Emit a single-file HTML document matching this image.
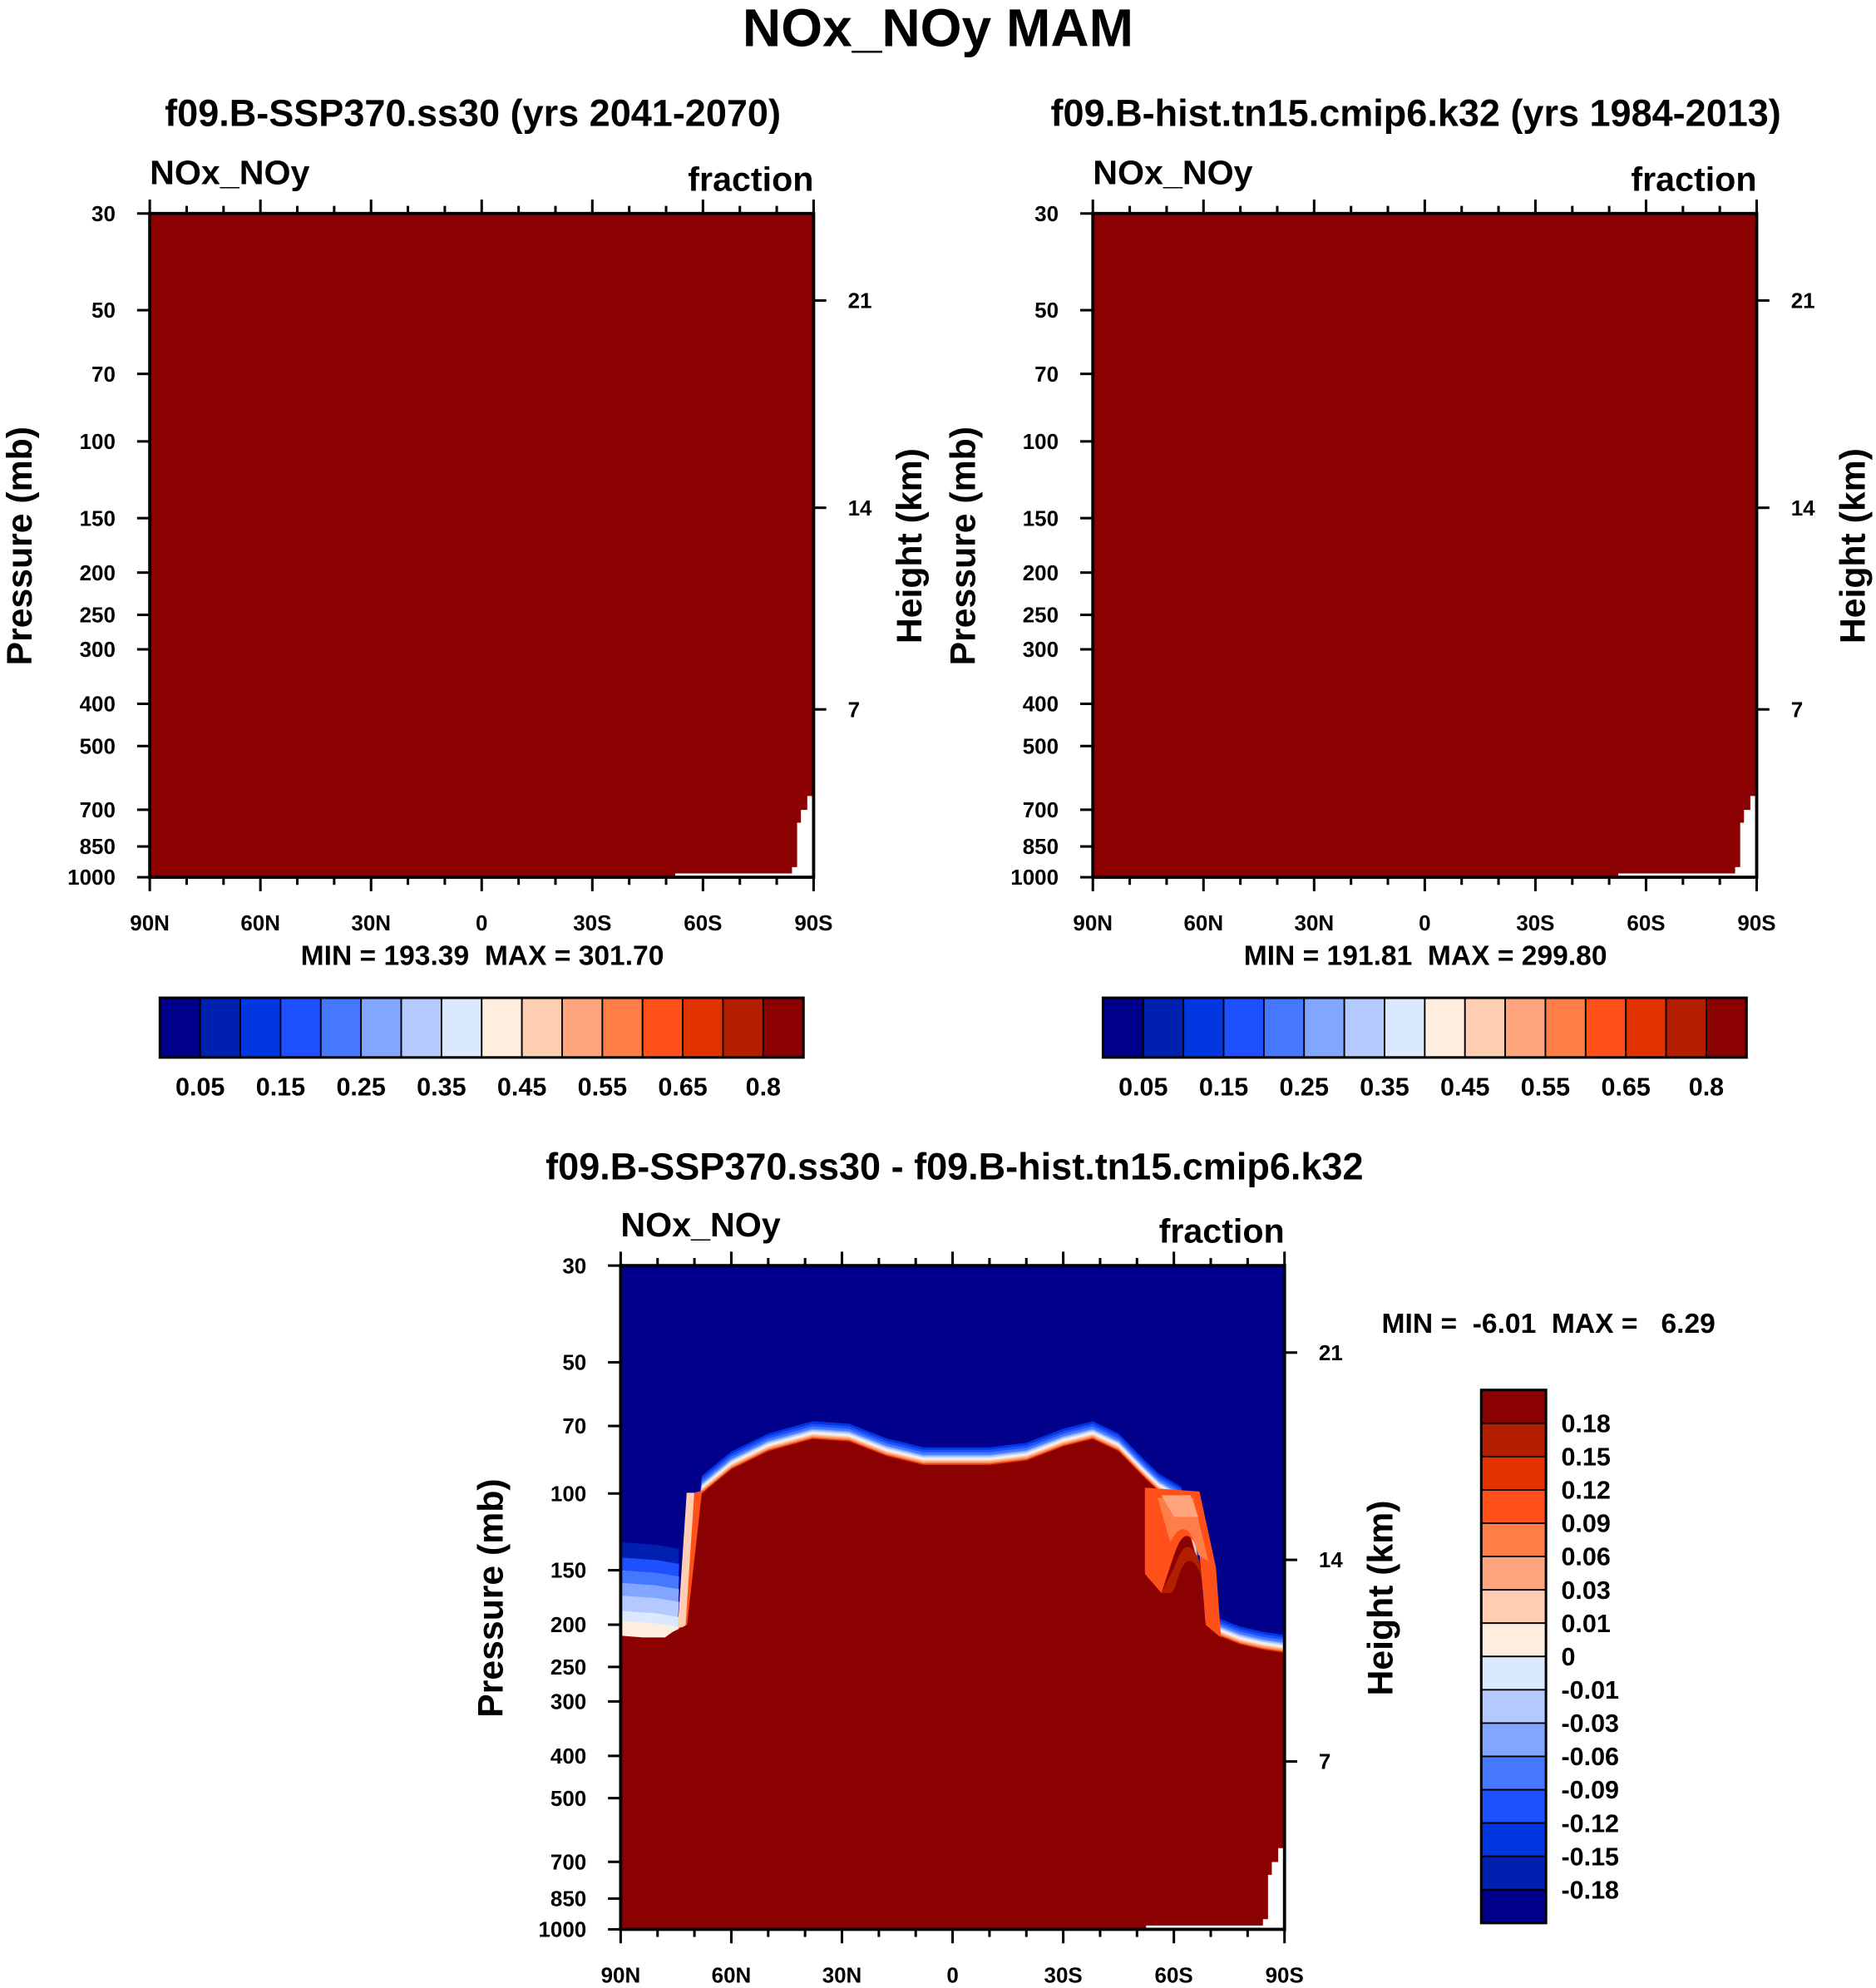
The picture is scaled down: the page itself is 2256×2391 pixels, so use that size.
<!DOCTYPE html>
<html><head><meta charset="utf-8"><style>
html,body{margin:0;padding:0;background:#fff;}
svg{display:block;font-family:"Liberation Sans",Arial,sans-serif;font-weight:bold;}
text{white-space:pre;}
</style></head><body>
<svg id="root" width="2256" height="2391" viewBox="0 0 1478 1566" xmlns="http://www.w3.org/2000/svg">
<text x="739" y="36" font-size="42" text-anchor="middle">NOx_NOy MAM</text>
</svg>
<script>
// ---- data ----
const colors=["#00008b","#0020b0","#0037e0","#1e50ff","#4678ff","#82a5ff","#b4caff","#dbe9ff","#ffeedd","#ffcdb2","#ffa57d","#ff7d46","#ff5019","#e13200","#b41e00","#8b0000"];
const topLevels=["0.05","0.15","0.25","0.35","0.45","0.55","0.65","0.8"];
const diffLevels=["0.18","0.15","0.12","0.09","0.06","0.03","0.01","0","-0.01","-0.03","-0.06","-0.09","-0.12","-0.15","-0.18"];
const pTicks=[30,50,70,100,150,200,250,300,400,500,700,850,1000];
const hTicks=[7,14,21];
const hTickP=[412,142,47.5];
const latTicks=[90,60,30,0,-30,-60,-90];
const latLabels=["90N","60N","30N","0","30S","60S","90S"];
// difference: pressure (mb) of top of the positive (dark red) region vs latitude
const diffLats=[90,84,78,76,72,68,60,50,38,28,18,8,0,-10,-20,-30,-38,-45,-52,-56,-62,-66,-68,-72,-78,-84,-90];
const diffTopP=[212,214,214,208,200,100,88,80,75,76,82,86,86,86,84,78,75,80,92,99,106,140,198,212,222,228,232];
const panels=[
 {x:118,y:168,title:"f09.B-SSP370.ss30 (yrs 2041-2070)",min:"193.39",max:"301.70"},
 {x:861,y:168,title:"f09.B-hist.tn15.cmip6.k32 (yrs 1984-2013)",min:"191.81",max:"299.80"}
];
// ---- drawing ----
const NS="http://www.w3.org/2000/svg";
const root=document.getElementById('root');
const W=523,H=523;
function mk(tag,attrs,parent,txt){const e=document.createElementNS(NS,tag);for(const k in attrs)e.setAttribute(k,attrs[k]);if(txt!==undefined)e.textContent=txt;(parent||root).appendChild(e);return e;}
function yOf(y0,p){return y0+Math.log10(p/30)/Math.log10(1000/30)*H;}
function xOf(x0,lat){return x0+(90-lat)/180*W;}
function axes(g,x0,y0){
  pTicks.forEach(p=>{const y=yOf(y0,p);
    mk('line',{x1:x0-10,x2:x0,y1:y,y2:y,stroke:'#000','stroke-width':2},g);
    const t=mk('text',{x:x0-27,y:y+6,'font-size':17,'text-anchor':'end'},g,String(p));
    });
  hTicks.forEach((h,i)=>{const y=yOf(y0,hTickP[i]);
    mk('line',{x1:x0+W,x2:x0+W+10,y1:y,y2:y,stroke:'#000','stroke-width':2},g);
    const t=mk('text',{x:x0+W+27,y:y+6,'font-size':17},g,String(h));
    });
  for(let lat=90;lat>=-90;lat-=10){const x=xOf(x0,lat);const maj=lat%30===0;const L=maj?11:6;
    mk('line',{x1:x,x2:x,y1:y0-L,y2:y0,stroke:'#000','stroke-width':2},g);
    mk('line',{x1:x,x2:x,y1:y0+H,y2:y0+H+L,stroke:'#000','stroke-width':2},g);}
  latTicks.forEach((lat,i)=>{const t=mk('text',{x:xOf(x0,lat),y:y0+H+42,'font-size':17,'text-anchor':'middle'},g,latLabels[i]);
    });
  mk('rect',{x:x0,y:y0,width:W,height:H,fill:'none',stroke:'#000','stroke-width':2.5},g);
  let t=mk('text',{x:x0,y:y0-23,'font-size':27},g,'NOx_NOy');
  t=mk('text',{x:x0+W,y:y0-18,'font-size':27,'text-anchor':'end'},g,'fraction');
  t=mk('text',{x:0,y:0,'font-size':28,'text-anchor':'middle',transform:`translate(${x0-93},${y0+262}) rotate(-90)`},g,'Pressure (mb)');
  t=mk('text',{x:0,y:0,'font-size':28,'text-anchor':'middle',transform:`translate(${x0+W+85},${y0+262}) rotate(-90)`},g,'Height (km)');
}
function mask(g,x0,y0){
  const b=y0+H;
  mk('polygon',{fill:'#fff',points:`${x0+W-5},${y0+459} ${x0+W},${y0+459} ${x0+W},${b} ${x0+W-20},${b} ${x0+W-20},${b-3} ${x0+W-17},${b-3} ${x0+W-17},${b-8} ${x0+W-13},${b-8} ${x0+W-13},${b-43} ${x0+W-10},${b-43} ${x0+W-10},${b-53} ${x0+W-5},${b-53}`},g);
  mk('line',{x1:x0+414,x2:x0+W-20,y1:b-2,y2:b-2,stroke:'#fff','stroke-width':2},g);
}
panels.forEach((P,i)=>{
  const g=mk('g',{});
  let t=mk('text',{x:P.x+W/2-7,y:99,'font-size':29.5,'text-anchor':'middle'},g,P.title);
  const f=mk('rect',{x:P.x,y:P.y,width:W,height:H,fill:colors[15]},g);
  mask(g,P.x,P.y);
  axes(g,P.x,P.y);
  t=mk('text',{x:P.x+262,y:760,'font-size':22,'text-anchor':'middle'},g,`MIN = ${P.min}  MAX = ${P.max}`);
  const cb=mk('g',{},g);
  const cx=P.x+8,cw=507/16;
  colors.forEach((c,k)=>{const r=mk('rect',{x:cx+k*cw,y:786,width:cw,height:47,fill:c,stroke:'#000','stroke-width':1.2},cb);});
  mk('rect',{x:cx,y:786,width:507,height:47,fill:'none',stroke:'#000','stroke-width':2},cb);
  topLevels.forEach((l,k)=>{const tt=mk('text',{x:cx+(2*k+1)*cw,y:863,'font-size':20,'text-anchor':'middle'},cb,l);});
});
// ---- difference panel ----
const DX=489,DY=997;
const gd=mk('g',{});
let tt=mk('text',{x:752,y:929,'font-size':29.5,'text-anchor':'middle'},gd,'f09.B-SSP370.ss30 - f09.B-hist.tn15.cmip6.k32');
const clip=mk('clipPath',{id:'dclip'},gd);mk('rect',{x:DX,y:DY,width:W,height:H},clip);
const fg=mk('g',{'clip-path':'url(#dclip)'},gd);
mk('rect',{x:DX,y:DY,width:W,height:H,fill:colors[0]},fg);
function bandPath(off){
  let d='';diffLats.forEach((lat,i)=>{d+=(i?'L':'M')+xOf(DX,lat).toFixed(1)+','+(yOf(DY,diffTopP[i])-off).toFixed(1);});
  return d+`L${DX+W},${DY+H}L${DX},${DY+H}Z`;
}
const bands=[[14,2],[12,3],[10,4],[8,5],[7,6],[6,7],[5,8],[4,9],[3,10],[2,11],[1,13]];
bands.forEach(([off,ci])=>{const p=mk('path',{d:bandPath(off),fill:colors[ci]},fg);});
// left low-latitude negative patch
[[1,1,70],[2,3,58],[3,4,48],[4,5,38],[5,6,28],[6,7,16],[7,8,8]].forEach(([k,ci,dy])=>{
  const y=1285-dy;const p=mk('path',{d:`M${DX},${y}L${DX+28},${y+2}L${DX+46},${y+5}L${DX+44},1290L${DX},1290Z`,fill:colors[ci]},fg);
  });
// left orange flank
mk('path',{d:`M${DX+50},1282 L${DX+58},1176 L${DX+80},1170 L${DX+66},1285Z`,fill:colors[12]},fg);
mk('path',{d:`M${DX+45},1282 L${DX+52},1176 L${DX+58},1176 L${DX+51},1282Z`,fill:colors[9]},fg);
// right pocket
mk('path',{d:bandPath(0),fill:colors[15]},fg);
mk('path',{d:`M902,1172 L945,1175 L958,1235 L962,1290 L950,1280 L945,1225 Q935,1195 925,1225 L915,1255 L902,1240Z`,fill:colors[12]},fg);
mk('path',{d:`M912,1180 L940,1180 L952,1230 L944,1225 Q935,1190 922,1215Z`,fill:colors[11]},fg);
mk('path',{d:`M915,1178 L938,1178 L944,1195 L925,1195Z`,fill:colors[10]},fg);
mk('path',{d:`M945,1230 Q935,1205 925,1235 L915,1255 L925,1255 Q935,1220 947,1245Z`,fill:colors[14]},fg);
mk('path',{d:`M950,1280 L946,1240 Q935,1215 926,1250 L920,1260 L935,1300 L955,1300Z`,fill:colors[15]},fg);
mask(gd,DX,DY);
axes(gd,DX,DY);
tt=mk('text',{x:1220,y:1050,'font-size':22,'text-anchor':'middle'},gd,'MIN =  -6.01  MAX =   6.29');
const vcb=mk('g',{},gd);
const ch=420/16;
colors.slice().reverse().forEach((c,k)=>{const r=mk('rect',{x:1167,y:1095+k*ch,width:51,height:ch,fill:c,stroke:'#000','stroke-width':1.2},vcb);});
mk('rect',{x:1167,y:1095,width:51,height:420,fill:'none',stroke:'#000','stroke-width':2},vcb);
diffLevels.forEach((l,k)=>{const t=mk('text',{x:1230,y:1095+(k+1)*ch+7,'font-size':20},vcb,l);});
</script>
</body></html>
